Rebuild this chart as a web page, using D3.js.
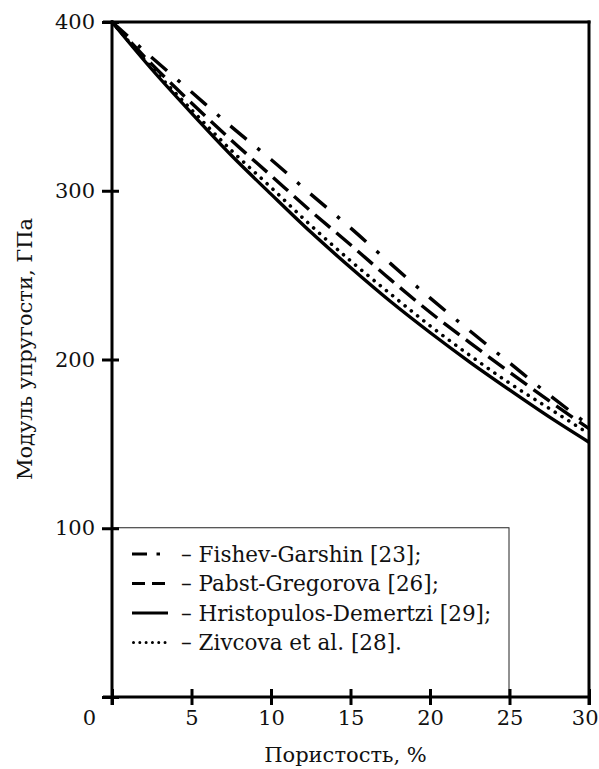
<!DOCTYPE html>
<html>
<head>
<meta charset="utf-8">
<script src="https://cdn.jsdelivr.net/npm/d3@7"></script>
<style>
  html, body { margin: 0; padding: 0; background: #fff; }
  svg { display: block; }
</style>
</head>
<body>
<svg id="chart" width="599" height="769"></svg>
<script>
// ---- data ----
const porosity = [0, 2.5, 5, 7.5, 10, 12.5, 15, 17.5, 20, 22.5, 25, 27.5, 30];
const fishevGarshin       = [400, 379, 358.5, 338, 318.5, 298, 278, 257, 236.5, 217, 198, 179, 161];
const pabstGregorova      = [400, 375, 352, 330, 309, 288, 268, 247.5, 228, 210, 192.5, 175.5, 159];
const hristopulosDemertzi = [400, 372, 346, 321, 298, 275.5, 254.5, 234.5, 216, 198.5, 182, 166, 151];
const zivcova             = [400, 373, 348, 324, 302, 279.5, 258.5, 239, 220, 202.5, 186, 171, 156];

const seriesNames = ["Fishev-Garshin [23];", "Pabst-Gregorova [26];", "Hristopulos-Demertzi [29];", "Zivcova et al. [28]."];
const xTicks = [0, 5, 10, 15, 20, 25, 30];
const yTicks = [0, 100, 200, 300, 400];
const xTitle = "Пористость, %";
const yTitle = "Модуль упругости, ГПа";

// ---- styles ----
const FONT = "'DejaVu Serif', 'Liberation Serif', serif";
const styles = [
  { dash: "21,14,3.5,14", cap: "butt",  legDash: "15,9.5,3.5,50", legLen: 28 },
  { dash: "20,8",         cap: "butt",  legDash: "13,7",          legLen: 33 },
  { dash: null,           cap: "butt",  legDash: null,            legLen: 36 },
  { dash: "0.01,8",       cap: "round", legDash: "0.01,6.3",      legLen: 32 }
];
const seriesValues = [fishevGarshin, pabstGregorova, hristopulosDemertzi, zivcova];

const svg = d3.select("#chart");
const x = d3.scaleLinear().domain([0, 30]).range([112, 589]);
const y = d3.scaleLinear().domain([0, 400]).range([697, 22]);

// legend box
const legTop = y(100) - 0.5;
svg.append("rect")
  .attr("x", x(0)).attr("y", legTop)
  .attr("width", 397).attr("height", y(0) - legTop)
  .attr("fill", "none").attr("stroke", "#222").attr("stroke-width", 1);

// curves
const line = d3.line().x(d => x(d[0])).y(d => y(d[1])).curve(d3.curveMonotoneX);
const curveG = svg.append("g");
seriesValues.forEach((vals, i) => {
  const st = styles[i];
  const p = curveG.append("path")
    .attr("d", line(porosity.map((p, k) => [p, vals[k]])))
    .attr("fill", "none").attr("stroke", "#000")
    .attr("stroke-width", i === 3 ? 3.6 : 3.4)
    .attr("stroke-linecap", st.cap);
  if (st.dash) p.attr("stroke-dasharray", st.dash);
});

// frame: top & right border
svg.append("line").attr("x1", 103).attr("x2", x(30) + 1.5).attr("y1", y(400)).attr("y2", y(400))
  .attr("stroke", "#000").attr("stroke-width", 3);
svg.append("line").attr("x1", x(30)).attr("x2", x(30)).attr("y1", y(400) - 1.5).attr("y2", y(0) + 8)
  .attr("stroke", "#000").attr("stroke-width", 3);

// left axis
const yAxis = d3.axisLeft(y).tickValues(yTicks).tickSize(10).tickPadding(7)
  .tickFormat(d => d === 0 ? "" : d);
const gy = svg.append("g").attr("transform", `translate(${x(0)},0)`).call(yAxis)
  .attr("font-family", FONT);
gy.select(".domain").remove();
gy.selectAll(".tick line").attr("x1", -10).attr("x2", 7).attr("stroke", "#000").attr("stroke-width", 3);
gy.selectAll(".tick text").attr("fill", "#111").style("font-size", "21px").style("font-family", FONT).attr("x", -17);
svg.append("line").attr("x1", x(0)).attr("x2", x(0)).attr("y1", y(400) - 1.5).attr("y2", y(0) + 8)
  .attr("stroke", "#000").attr("stroke-width", 3);

// bottom axis
const xAxis = d3.axisBottom(x).tickValues(xTicks).tickSize(8).tickPadding(8);
const gx = svg.append("g").attr("transform", `translate(0,${y(0)})`).call(xAxis)
  .attr("font-family", FONT);
gx.select(".domain").remove();
gx.selectAll(".tick line").attr("y1", -8).attr("y2", 8).attr("stroke", "#000").attr("stroke-width", 3);
gx.selectAll(".tick text").attr("fill", "#111").style("font-size", "21px").style("font-family", FONT).attr("y", 13);
gx.selectAll(".tick").filter(d => d === 0).select("text").attr("x", -23);
gx.selectAll(".tick").filter(d => d === 30).select("text").attr("text-anchor", "end").attr("x", 9);
svg.append("line").attr("x1", 103).attr("x2", x(30) + 1.5).attr("y1", y(0)).attr("y2", y(0))
  .attr("stroke", "#000").attr("stroke-width", 3);

// axis titles
svg.append("text").attr("x", (x(0) + x(30)) / 2 - 5).attr("y", 762).attr("fill", "#111")
  .attr("text-anchor", "middle").style("font-size", "21px").style("font-family", FONT).text(xTitle);
svg.append("text").attr("transform", `translate(32,349) rotate(-90)`).attr("fill", "#111")
  .attr("text-anchor", "middle").style("font-size", "21px").style("font-family", FONT).text(yTitle);

// legend
const rowY = [554, 583.5, 613, 642.5];
seriesNames.forEach((name, i) => {
  const st = styles[i];
  const x0 = i === 3 ? 133.5 : 132;
  const l = svg.append("line").attr("x1", x0).attr("x2", x0 + st.legLen)
    .attr("y1", rowY[i]).attr("y2", rowY[i])
    .attr("stroke", "#000").attr("stroke-width", i === 3 ? 3 : 3.2)
    .attr("stroke-linecap", st.cap);
  if (st.legDash) l.attr("stroke-dasharray", st.legDash);
  svg.append("text").attr("x", 181).attr("y", rowY[i]).attr("dy", "0.35em").attr("fill", "#111")
    .style("font-size", "21.5px").style("font-family", FONT).text("– " + name);
});
</script>
</body>
</html>
